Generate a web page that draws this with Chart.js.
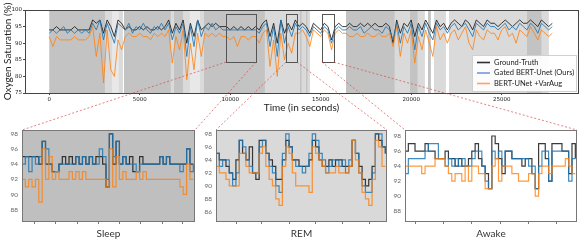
<!DOCTYPE html>
<html>
<head>
<meta charset="utf-8">
<script src="https://cdn.jsdelivr.net/npm/chart.js@4.4.0/dist/chart.umd.min.js"></script>
<style>
body { margin: 0; background: #fff; width: 581px; height: 240px; position: relative; overflow: hidden; }
canvas { position: absolute; }
</style>
</head>
<body>
<canvas id="overview" width="581" height="115" style="left:0;top:0"></canvas>
<canvas id="sleepPanel" width="200" height="120" style="left:0;top:120px"></canvas>
<canvas id="remPanel" width="196" height="120" style="left:196px;top:120px"></canvas>
<canvas id="awakePanel" width="193" height="120" style="left:388px;top:120px"></canvas>
<canvas id="links" width="581" height="240" style="left:0;top:0;pointer-events:none;z-index:10"></canvas>
<script>
// whole night, one value every 200 s
const sampleSec = 200;
const gtNight = [
  94,94,95,94,94,94,94,95,94,94,94,94,
  97,96,97,93,97,95,92,97,96,
  94,95,94,94,95,94,95,94,94,95,94,95,
  97,93,96,94,
  97,90,96,92,97,94,
  95,96,95,96,95,95,
  95,94,95,94,95,94,95,94,
  95,94,96,
  97,92,96,90,97,93,96,94,97,
  95,96,95,93,96,95,94,96,95,91,95,96,95,
  95,96,95,95,96,95,96,95,96,95,95,96,95,90,
  97,93,96,95,97,92,96,94,97,95,93,97,95,96,94,
  96,97,96,95,97,96,94,97,96,95,97,96,
  96,95,96,97,96,95,96,97,96,96,97,96,95,97,96,95,96
];
const gatedNight = [
  93,94,93,94,95,93,94,93,94,93,94,93,
  96,94,97,91,96,93,90,96,95,
  94,96,93,95,94,96,94,93,95,94,96,94,
  96,91,95,93,
  96,86,95,89,97,92,
  95,94,96,94,95,94,
  94,94,94,94,94,94,94,94,
  94,93,95,
  96,89,95,86,97,90,95,92,96,
  94,95,94,92,95,94,93,95,94,90,94,95,94,
  94,95,94,94,95,93,94,95,94,94,93,95,94,91,
  96,90,95,93,96,88,95,92,96,93,91,96,94,95,93,
  95,96,94,95,96,94,92,96,95,94,96,95,
  95,94,95,96,94,95,94,96,95,94,96,95,93,96,95,94,95
];
const varAugNight = [
  92,89,92,91,91,91,91,92,91,91,91,92,
  95,86,93,78,94,82,80,91,88,
  92,93,92,92,93,92,92,91,93,92,93,92,
  94,84,92,88,
  94,79,90,82,93,86,
  93,92,93,92,93,92,
  92,91,92,89,92,92,91,92,
  92,90,93,
  94,83,91,80,93,85,90,87,93,
  93,94,92,89,94,93,92,94,93,88,93,94,93,
  93,92,92,93,92,92,93,92,92,93,92,92,93,89,
  95,86,93,90,94,84,92,88,94,90,86,95,91,93,90,
  93,94,91,93,95,90,88,94,92,91,94,93,
  93,91,94,95,92,93,90,94,93,92,95,93,91,94,93,92,93
];
const nightTimeTicks = [0, 5000, 10000, 15000, 20000, 25000];
const nightSatTicks = [75, 80, 85, 90, 95, 100];

// sleep stage bands [start s, end s, stage]
const stageBands = [
  [0, 3080, 'sleep'], [3080, 4070, 'rem'], [3470, 3850, 'pale'],
  [4130, 6725, 'sleep'], [6725, 6890, 'rem'], [6890, 7390, 'sleep'],
  [7390, 8550, 'rem'], [7770, 8330, 'pale'], [8550, 11920, 'sleep'],
  [11920, 13850, 'rem'], [13850, 13960, 'sleep'], [13960, 14180, 'rem'],
  [14180, 14290, 'sleep'], [14290, 14410, 'rem'],
  [16400, 19100, 'sleep'], [19100, 19930, 'rem'], [19930, 20370, 'sleep'],
  [20370, 20760, 'rem'], [20930, 21090, 'sleep'], [21260, 21920, 'rem'],
  [22090, 26390, 'rem'], [26390, 27220, 'sleep'], [27220, 27610, 'rem']
];

// zoomed windows [start s, end s, low %, high %]
const zoomWindows = [
  [9765, 11422, 84.3, 98.8],
  [13080, 13690, 84.3, 98.8],
  [15070, 15732, 84.3, 98.8]
];

const seriesNames = ['Ground-Truth', 'Gated BERT-Unet (Ours)', 'BERT-UNet +VarAug'];
const panelTitles = ['Sleep', 'REM', 'Awake'];

const sleepGT = [95,95,95,95,95,94,97,94,94,93,93,94,95,94,95,94,95,94,95,94,95,94,95,95,94,91,98,94,97,94,95,94,95,93,93,95,94,94,94,94,94,95,94,95,94,94,94,94,94,96,94,94];
const sleepGated = [94,95,93,95,94,95,97,96,94,93,93,94,94,94,94,94,95,94,95,94,95,94,94,96,95,92,98,95,97,94,95,94,94,94,93,94,94,94,94,94,94,95,94,95,94,94,94,93,94,96,93,94];
const sleepVarAug = [92,91,92,91,92,89,96,92,95,92,93,92,92,92,93,92,93,92,93,92,92,92,92,92,92,91,96,91,95,92,93,92,92,92,93,92,93,92,92,92,92,92,92,92,92,92,92,91,90,94,92,92];
const sleepTicks = [3.7, 10.1, 16.4, 22.7, 29, 35.4, 41.7, 47.9];
const sleepSatTicks = [88, 90, 92, 94, 96, 98];

const remGT = [95,94,94,93,92,91,94,97,95,94,96,92,91,97,97,95,94,93,91,91,94,97,96,94,94,93,93,93,94,97,96,94,93,93,94,93,94,94,93,93,93,97,95,93,91,90,91,93,98,97,96,95];
const remGated = [95,93,94,94,92,90,92,97,96,94,93,92,92,96,97,95,93,92,90,89,95,98,96,94,93,93,92,93,95,98,97,95,94,92,93,94,94,93,94,92,94,97,95,92,90,89,89,92,98,98,96,95];
const remVarAug = [93,92,92,91,90,90,90,95,95,93,92,92,92,95,96,93,91,90,88,87,93,96,95,92,90,90,90,90,89,96,95,94,93,92,92,92,93,92,92,92,93,97,94,92,89,88,87,91,97,96,93,93];
const remTicks = [6.2, 13.8, 22, 30, 38, 46.2];
const remSatTicks = [86, 88, 90, 92, 94, 96, 98];

const awakeGT = [96,97,97,96,96,96,97,96,96,95,95,95,96,95,95,94,95,94,94,95,96,97,95,94,93,91,98,97,95,93,96,96,95,95,95,94,95,95,93,91,97,97,95,92,97,97,97,96,96,93,97,95];
const awakeGated = [93,95,95,95,95,95,96,97,97,97,95,95,94,95,94,95,94,95,94,94,95,96,96,94,92,91,96,95,96,94,96,96,95,95,95,95,95,94,94,91,94,96,96,92,96,96,96,96,96,92,95,95];
const awakeVarAug = [94,94,94,94,94,93,94,94,94,95,95,95,94,93,92,93,93,92,94,92,94,94,93,93,91,91,94,95,92,94,94,94,93,93,92,92,92,93,93,90,93,94,94,93,94,94,94,94,95,94,93,93];
const awakeTicks = [3, 11.5, 20, 28.5, 37, 45.5];
const awakeSatTicks = [88, 90, 92, 94, 96, 98];

const lineColors = ['rgba(25,25,25,0.85)', 'rgba(31,119,180,0.85)', 'rgba(255,127,14,0.8)'];
const legendColors = ['rgba(25,25,25,0.9)', 'rgba(100,145,215,0.9)', 'rgba(250,160,90,0.95)'];
const stageFill = { sleep: '#c3c3c3', rem: '#dadada', pale: '#e8e8e8' };

Chart.defaults.font.family = 'Lato';
Chart.defaults.animation = false;

function buildSets(series, step, width) {
  return series.map((vals, k) => ({
    label: seriesNames[k],
    data: vals.map((v, i) => ({ x: i * step, y: v })),
    borderColor: lineColors[k],
    borderWidth: width,
    pointRadius: 0,
    order: 3 - k
  }));
}

function fixedTicks(list) {
  return s => { s.ticks = list.map(v => ({ value: v })); };
}

const overviewDecor = {
  id: 'overviewDecor',
  beforeDatasetsDraw(chart) {
    const { ctx, chartArea: a, scales: { x } } = chart;
    ctx.save();
    ctx.beginPath();
    ctx.rect(a.left, a.top, a.width, a.height);
    ctx.clip();
    stageBands.forEach(([s, e, st]) => {
      const x1 = x.getPixelForValue(s), x2 = x.getPixelForValue(e);
      ctx.fillStyle = stageFill[st];
      ctx.fillRect(x1, a.top, x2 - x1, a.height);
    });
    ctx.restore();
  },
  afterDatasetsDraw(chart) {
    const { ctx, chartArea: a, scales: { x, y } } = chart;
    ctx.save();
    ctx.strokeStyle = '#555';
    ctx.lineWidth = 1;
    zoomWindows.forEach(([s, e, lo, hi]) => {
      const x1 = x.getPixelForValue(s), x2 = x.getPixelForValue(e);
      const y1 = y.getPixelForValue(hi), y2 = y.getPixelForValue(lo);
      ctx.strokeRect(Math.round(x1) + 0.5, Math.round(y1) + 0.5, Math.round(x2 - x1), Math.round(y2 - y1));
    });
    ctx.strokeStyle = '#444';
    ctx.strokeRect(a.left + 0.5, a.top + 0.5, a.width, a.height);

    // legend, lower right corner
    const w = 104, h = 36;
    const lx = a.right - w - 2, ly = a.bottom - h - 2;
    ctx.fillStyle = 'rgba(255,255,255,0.92)';
    ctx.fillRect(lx, ly, w, h);
    ctx.strokeStyle = '#d0d0d0';
    ctx.strokeRect(lx + 0.5, ly + 0.5, w, h);
    ctx.font = '7.5px Lato';
    ctx.textBaseline = 'middle';
    seriesNames.forEach((name, k) => {
      const ry = ly + 7.5 + k * 10.5;
      ctx.strokeStyle = legendColors[k];
      ctx.lineWidth = 1.6;
      ctx.beginPath();
      ctx.moveTo(lx + 5, ry);
      ctx.lineTo(lx + 18, ry);
      ctx.stroke();
      ctx.fillStyle = '#222';
      ctx.fillText(name, lx + 22, ry);
    });
    ctx.restore();
  }
};

const overview = new Chart(document.getElementById('overview'), {
  type: 'line',
  data: { datasets: buildSets([gtNight, gatedNight, varAugNight], sampleSec, 1) },
  options: {
    responsive: false,
    devicePixelRatio: 1,
    layout: { padding: { top: 10, right: 3, left: 0, bottom: 0 } },
    plugins: { legend: { display: false }, tooltip: { enabled: false } },
    scales: {
      x: {
        type: 'linear', min: -1340, max: 29220,
        afterFit: s => { s.height = 22; },
        afterBuildTicks: fixedTicks(nightTimeTicks),
        ticks: { maxRotation: 0, padding: 1, color: '#222', font: { family: 'DejaVu Sans', size: 5.5 }, callback: v => String(v) },
        grid: { drawOnChartArea: false, tickLength: 2, color: '#444' },
        border: { display: false },
        title: { display: true, text: 'Time (in seconds)', color: '#222', font: { size: 10 }, padding: { top: 0, bottom: 1 } }
      },
      y: {
        min: 75, max: 100,
        afterFit: s => { s.width = 25; },
        afterBuildTicks: fixedTicks(nightSatTicks),
        ticks: { padding: 1, color: '#222', font: { family: 'DejaVu Sans', size: 5.5 }, callback: v => String(v) },
        grid: { drawOnChartArea: false, tickLength: 2, color: '#444' },
        border: { display: false },
        title: { display: true, text: 'Oxygen Saturation (%)', color: '#222', font: { size: 10 }, padding: { top: 2, bottom: 0 } }
      }
    }
  },
  plugins: [overviewDecor]
});

function makePanel(id, series, tickList, satTicks, bg, yMin, yMax, yWidth, rightPad, title) {
  const frame = {
    id: 'panelFrame',
    beforeDatasetsDraw(chart) {
      const { ctx, chartArea: a } = chart;
      ctx.save();
      ctx.fillStyle = bg;
      ctx.fillRect(a.left, a.top, a.width, a.height);
      ctx.restore();
    },
    afterDatasetsDraw(chart) {
      const { ctx, chartArea: a } = chart;
      ctx.save();
      ctx.strokeStyle = '#777';
      ctx.lineWidth = 1;
      ctx.strokeRect(a.left + 0.5, a.top + 0.5, a.width - 1, a.height);
      ctx.restore();
    }
  };
  const sets = buildSets(series, 1, 1.2).map(d => Object.assign(d, { stepped: true }));
  return new Chart(document.getElementById(id), {
    type: 'line',
    data: { datasets: sets },
    options: {
      responsive: false,
      devicePixelRatio: 1,
      layout: { padding: { top: 10, right: rightPad, left: 0, bottom: 0 } },
      plugins: { legend: { display: false }, tooltip: { enabled: false } },
      scales: {
        x: {
          type: 'linear', min: 0, max: 51.5,
          afterFit: s => { s.height = 19; },
          afterBuildTicks: fixedTicks(tickList),
          ticks: { display: false },
          grid: { drawOnChartArea: false, tickLength: 3, color: '#777' },
          border: { display: false },
          title: { display: true, text: title, color: '#333', font: { size: 10 }, padding: { top: 0, bottom: 0 } }
        },
        y: {
          min: yMin, max: yMax,
          afterFit: s => { s.width = yWidth; },
          afterBuildTicks: fixedTicks(satTicks),
          ticks: { padding: 4, color: '#666', font: { size: 6.5 }, callback: v => String(v) },
          grid: { display: false, drawTicks: false },
          border: { display: false }
        }
      }
    },
    plugins: [frame]
  });
}

const sleepChart = makePanel('sleepPanel', [sleepGT, sleepGated, sleepVarAug], sleepTicks, sleepSatTicks, '#bfbfbf', 86.5, 98.5, 22, 5, panelTitles[0]);
const remChart = makePanel('remPanel', [remGT, remGated, remVarAug], remTicks, remSatTicks, '#d9d9d9', 84.6, 98.6, 20, 5, panelTitles[1]);
const awakeChart = makePanel('awakePanel', [awakeGT, awakeGated, awakeVarAug], awakeTicks, awakeSatTicks, '#ffffff', 86.7, 98.8, 17, 4, panelTitles[2]);

// dashed connectors from each window box to its panel
const lctx = document.getElementById('links').getContext('2d');
lctx.strokeStyle = 'rgba(215,70,70,0.85)';
lctx.lineWidth = 0.8;
lctx.setLineDash([2, 2]);
[sleepChart, remChart, awakeChart].forEach((p, k) => {
  const [s, e, lo] = zoomWindows[k];
  const bx1 = overview.scales.x.getPixelForValue(s);
  const bx2 = overview.scales.x.getPixelForValue(e);
  const by = overview.scales.y.getPixelForValue(lo);
  const ox = p.canvas.offsetLeft, oy = p.canvas.offsetTop;
  const a = p.chartArea;
  lctx.beginPath();
  lctx.moveTo(bx1, by);
  lctx.lineTo(ox + a.left, oy + a.top);
  lctx.moveTo(bx2, by);
  lctx.lineTo(ox + a.right, oy + a.top);
  lctx.stroke();
});
</script>
</body>
</html>
